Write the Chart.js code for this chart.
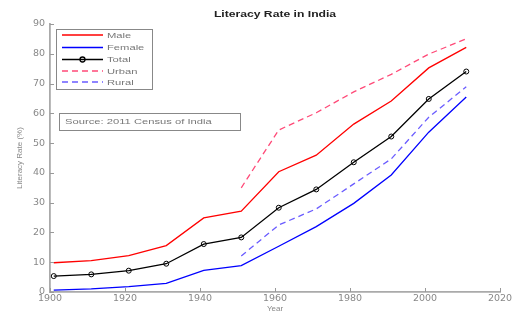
<!DOCTYPE html>
<html>
<head>
<meta charset="utf-8">
<script src="https://cdn.jsdelivr.net/npm/chart.js@4.4.0/dist/chart.umd.min.js"></script>
<style>
html,body{margin:0;padding:0;background:#fff;}
#wrap{width:515px;height:312px;}
canvas{display:block;filter:blur(0.5px);}
</style>
</head>
<body>
<div id="wrap"><canvas id="c" width="515" height="312"></canvas></div>
<script>
const years = [1901, 1911, 1921, 1931, 1941, 1951, 1961, 1971, 1981, 1991, 2001, 2011];
const male = [9.83, 10.56, 12.21, 15.59, 24.90, 27.16, 40.40, 45.96, 56.38, 64.13, 75.26, 82.14];
const female = [0.60, 1.05, 1.81, 2.93, 7.30, 8.86, 15.35, 21.97, 29.76, 39.29, 53.67, 65.46];
const total = [5.35, 5.92, 7.16, 9.50, 16.10, 18.33, 28.30, 34.45, 43.57, 52.21, 64.83, 74.04];
const urbanYears = [1951, 1961, 1971, 1981, 1991, 2001, 2011];
const urban = [35.0, 54.4, 60.2, 67.2, 73.1, 79.9, 85.0];
const rural = [12.1, 22.5, 27.9, 36.3, 44.7, 58.7, 68.9];
const xTicks = [1900, 1920, 1940, 1960, 1980, 2000, 2020];
const yTicks = [0, 10, 20, 30, 40, 50, 60, 70, 80, 90];
const seriesNames = ['Male', 'Female', 'Total', 'Urban', 'Rural'];
const titleText = 'Literacy Rate in India';
const sourceText = 'Source: 2011 Census of India';

const pts = (xs, ys) => xs.map((x, i) => ({x: x, y: ys[i]}));
const FONT = 'Liberation Sans, Arial, sans-serif';
const TICKFONT = 'DejaVu Sans, sans-serif';

const datasets = [
  {label: seriesNames[0], data: pts(years, male), borderColor: '#ff0000', borderWidth: 1.3, pointRadius: 0, tension: 0},
  {label: seriesNames[1], data: pts(years, female), borderColor: '#0000ff', borderWidth: 1.3, pointRadius: 0, tension: 0},
  {label: seriesNames[2], data: pts(years, total), borderColor: '#000000', borderWidth: 1.3, pointRadius: 2.5, pointBorderWidth: 1, pointBorderColor: '#000', pointBackgroundColor: 'rgba(0,0,0,0)', pointStyle: 'circle', tension: 0},
  {label: seriesNames[3], data: pts(urbanYears, urban), borderColor: '#ff4a78', borderWidth: 1.3, borderDash: [6, 4], pointRadius: 0, tension: 0},
  {label: seriesNames[4], data: pts(urbanYears, rural), borderColor: '#6a5cff', borderWidth: 1.3, borderDash: [6, 4], pointRadius: 0, tension: 0}
];

function stretchText(ctx, text, x, y, sx, align) {
  ctx.save();
  ctx.translate(x, y);
  ctx.scale(sx, 1);
  ctx.textAlign = align || 'left';
  ctx.fillText(text, 0, 0);
  ctx.restore();
}

const decor = {
  id: 'decor',
  afterDraw(chart) {
    const ctx = chart.ctx;
    const xs = chart.scales.x, ys = chart.scales.y;
    const ca = chart.chartArea;
    ctx.save();
    // inward ticks
    ctx.strokeStyle = '#999';
    ctx.lineWidth = 1;
    ctx.beginPath();
    yTicks.forEach(v => {
      const p = Math.round(ys.getPixelForValue(v)) + 0.5;
      ctx.moveTo(ca.left, p); ctx.lineTo(ca.left + 4, p);
    });
    xTicks.forEach(v => {
      const p = Math.round(xs.getPixelForValue(v)) + 0.5;
      ctx.moveTo(p, ca.bottom); ctx.lineTo(p, ca.bottom - 4);
    });
    ctx.stroke();

    // title
    ctx.fillStyle = '#222';
    ctx.font = 'bold 9px ' + FONT;
    ctx.textBaseline = 'middle';
    stretchText(ctx, titleText, (ca.left + ca.right) / 2, 15, 1.35, 'center');

    // legend box
    ctx.fillStyle = '#fff';
    ctx.fillRect(56.5, 29.5, 96, 60);
    ctx.strokeStyle = '#888';
    ctx.lineWidth = 1;
    ctx.strokeRect(56.5, 29.5, 96, 60);
    const rowY = [35, 47.5, 59.5, 71, 82];
    chart.data.datasets.forEach((ds, i) => {
      const y = rowY[i];
      ctx.save();
      ctx.strokeStyle = ds.borderColor;
      ctx.lineWidth = ds.borderWidth;
      ctx.setLineDash(ds.borderDash || []);
      ctx.beginPath();
      ctx.moveTo(62, y); ctx.lineTo(103, y);
      ctx.stroke();
      ctx.setLineDash([]);
      if (ds.pointRadius > 0) {
        ctx.beginPath();
        ctx.arc(82.5, y, ds.pointRadius, 0, Math.PI * 2);
        ctx.stroke();
      }
      ctx.restore();
      ctx.fillStyle = '#777';
      ctx.font = '8px ' + FONT;
      ctx.textBaseline = 'middle';
      stretchText(ctx, ds.label, 107, y + 0.5, 1.4, 'left');
    });

    // source box
    ctx.strokeStyle = '#888';
    ctx.strokeRect(59.5, 113.5, 181, 17);
    ctx.fillStyle = '#777';
    ctx.font = '8px ' + FONT;
    ctx.textBaseline = 'middle';
    stretchText(ctx, sourceText, 65, 122, 1.4, 'left');
    ctx.restore();
  }
};

new Chart(document.getElementById('c'), {
  type: 'line',
  data: {datasets: datasets},
  plugins: [decor],
  options: {
    responsive: false,
    animation: false,
    devicePixelRatio: 1,
    layout: {padding: {top: 24, right: 15, left: 0, bottom: 0}},
    plugins: {legend: {display: false}, title: {display: false}, tooltip: {enabled: false}},
    scales: {
      x: {
        type: 'linear', min: 1900, max: 2020,
        afterFit: s => { s.height = 20; },
        afterBuildTicks: s => { s.ticks = xTicks.map(v => ({value: v})); },
        grid: {drawOnChartArea: false, drawTicks: false},
        border: {color: '#aaa', width: 1.8},
        ticks: {color: '#888', font: {size: 9.5, family: TICKFONT, lineHeight: 1}, padding: 2, maxRotation: 0, autoSkip: false, callback: v => String(v)},
        title: {display: true, text: 'Year', color: '#888', font: {size: 8, family: FONT, lineHeight: 0.7}, padding: {top: 0, bottom: 0}}
      },
      y: {
        type: 'linear', min: 0, max: 90,
        afterFit: s => { s.width = 50; },
        afterBuildTicks: s => { s.ticks = yTicks.map(v => ({value: v})); },
        grid: {drawOnChartArea: false, drawTicks: false},
        border: {color: '#aaa', width: 1.8},
        ticks: {color: '#888', font: {size: 9.5, family: TICKFONT}, padding: 5, autoSkip: false, callback: v => String(v)},
        title: {display: true, text: 'Literacy Rate (%)', color: '#888', font: {size: 8, family: FONT}, padding: {top: 15, bottom: 0}}
      }
    }
  }
});
</script>
</body>
</html>
